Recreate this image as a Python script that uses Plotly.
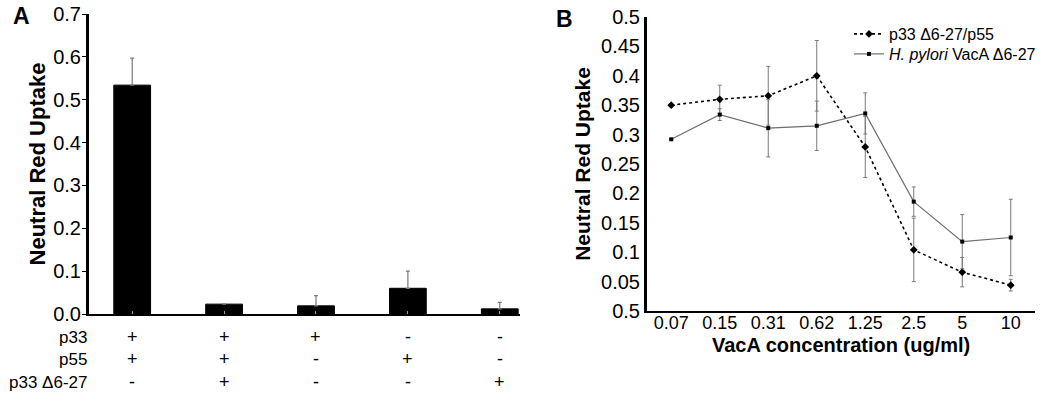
import plotly.graph_objects as go

# ---------------- Panel A data ----------------
a_categories = ["c1", "c2", "c3", "c4", "c5"]
a_values = [0.534, 0.023, 0.019, 0.060, 0.012]
a_err_plus = [0.063, 0.0, 0.024, 0.040, 0.015]
row_labels = ["p33", "p55", "p33 Δ6-27"]
row_p33 = ["+", "+", "+", "-", "-"]
row_p55 = ["+", "+", "-", "+", "-"]
row_d627 = ["-", "+", "-", "-", "+"]
a_yticks = [0.0, 0.1, 0.2, 0.3, 0.4, 0.5, 0.6, 0.7]
a_yticktext = ["0.0", "0.1", "0.2", "0.3", "0.4", "0.5", "0.6", "0.7"]

# ---------------- Panel B data ----------------
b_conc = ["0.07", "0.15", "0.31", "0.62", "1.25", "2.5", "5", "10"]
b_dotted = [0.350, 0.360, 0.366, 0.400, 0.279, 0.104, 0.066, 0.044]
b_dotted_err = [0.0, 0.024, 0.050, 0.060, 0.052, 0.054, 0.025, 0.010]
b_solid = [0.292, 0.334, 0.311, 0.315, 0.336, 0.186, 0.118, 0.125]
b_solid_err = [0.0, 0.010, 0.049, 0.042, 0.035, 0.025, 0.046, 0.065]
b_yticks = [0.0, 0.05, 0.1, 0.15, 0.2, 0.25, 0.3, 0.35, 0.4, 0.45, 0.5]
b_yticktext = ["0.5", "0.05", "0.1", "0.15", "0.2", "0.25", "0.3", "0.35", "0.4", "0.45", "0.5"]

FONT = "Liberation Sans, Arial, sans-serif"
W, H = 1050, 404

fig = go.Figure()

fig.add_trace(go.Bar(
    x=a_categories, y=a_values, width=0.4,
    marker=dict(color="black", line=dict(color="black", width=1)),
    error_y=dict(type="data", array=a_err_plus, arrayminus=[0] * len(a_values),
                 symmetric=False, color="#7a7a7a", thickness=1.2, width=2),
    xaxis="x", yaxis="y", showlegend=False,
))

fig.add_trace(go.Scatter(
    x=b_conc, y=b_dotted, mode="lines+markers", name="p33 Δ6-27/p55",
    line=dict(color="black", width=1.6, dash="dot"),
    marker=dict(symbol="diamond", size=6, color="black"),
    error_y=dict(type="data", array=b_dotted_err, color="#7a7a7a", thickness=1, width=2),
    xaxis="x2", yaxis="y2", legend="legend",
))
fig.add_trace(go.Scatter(
    x=b_conc, y=b_solid, mode="lines+markers", name="<i>H. pylori</i> VacA Δ6-27",
    line=dict(color="#6e6e6e", width=1.2),
    marker=dict(symbol="square", size=4, color="black"),
    error_y=dict(type="data", array=b_solid_err, color="#7a7a7a", thickness=1, width=2),
    xaxis="x2", yaxis="y2", legend="legend2",
))


def px(x):
    return x / W


def py(y):
    return 1 - y / H


annotations = []
rows = [row_p33, row_p55, row_d627]
row_y = [337, 359, 382]
for label, ry in zip(row_labels, row_y):
    annotations.append(dict(text=label, xref="paper", yref="paper", x=px(89), y=py(ry),
                            xanchor="right", yanchor="middle", showarrow=False,
                            font=dict(family=FONT, size=17, color="black")))
for r, ry in zip(rows, row_y):
    for cat, s in zip(a_categories, r):
        annotations.append(dict(text=s, xref="x", yref="paper", x=cat, y=py(ry),
                                xanchor="center", yanchor="middle", showarrow=False,
                                font=dict(family=FONT, size=18, color="black")))
annotations.append(dict(text="<b>A</b>", xref="paper", yref="paper", x=px(11), y=py(16),
                        xanchor="left", yanchor="middle", showarrow=False,
                        font=dict(family=FONT, size=23, color="black")))
annotations.append(dict(text="<b>B</b>", xref="paper", yref="paper", x=px(554), y=py(19),
                        xanchor="left", yanchor="middle", showarrow=False,
                        font=dict(family=FONT, size=23, color="black")))
# x-axis title of panel B
annotations.append(dict(text="<b>VacA concentration (ug/ml)</b>", xref="x2 domain", yref="paper",
                        x=0.5, y=py(345), xanchor="center", yanchor="middle", showarrow=False,
                        font=dict(family=FONT, size=20, color="black")))

legend_common = dict(xanchor="left", yanchor="top", bgcolor="rgba(0,0,0,0)",
                     font=dict(family=FONT, size=16), itemwidth=30)

fig.update_layout(
    width=W, height=H,
    margin=dict(l=0, r=0, t=0, b=0),
    paper_bgcolor="white", plot_bgcolor="white",
    font=dict(family=FONT, size=18, color="black"),
    xaxis=dict(domain=[px(89), px(520)], range=[-0.47, 4.22], automargin=False,
               showticklabels=False, showline=True, linecolor="black", linewidth=2,
               ticks="inside", ticklen=3, tickcolor="#999", showgrid=False, zeroline=False,
               anchor="y"),
    yaxis=dict(domain=[py(314), py(14)], range=[0, 0.7], tickvals=a_yticks, ticktext=a_yticktext,
               automargin=False,
               showline=True, linecolor="black", linewidth=3, ticks="outside", ticklen=4,
               tickcolor="black", showgrid=False, zeroline=False,
               tickfont=dict(family=FONT, size=20), ticklabelstandoff=-3,
               title=dict(text="<b>Neutral Red Uptake</b>", font=dict(family=FONT, size=22), standoff=2),
               anchor="x"),
    xaxis2=dict(domain=[px(647), px(1035)], range=[-0.5, 7.5], type="category", automargin=False,
                showline=True, linecolor="black", linewidth=2, ticks="", showgrid=False,
                zeroline=False, tickfont=dict(family=FONT, size=18), ticklabelstandoff=-6,
                anchor="y2"),
    yaxis2=dict(domain=[py(311), py(17)], range=[0, 0.5], tickvals=b_yticks, ticktext=b_yticktext,
                automargin=False,
                showline=True, linecolor="black", linewidth=3, ticks="", showgrid=False,
                zeroline=False, tickfont=dict(family=FONT, size=20),
                title=dict(text="<b>Neutral Red Uptake</b>", font=dict(family=FONT, size=21), standoff=5),
                anchor="x2"),
    legend=dict(x=px(849), y=py(17), **legend_common),
    legend2=dict(x=px(849), y=py(37), **legend_common),
    annotations=annotations,
)

fig.write_html("out.html", post_script="document.body.style.margin='0';",
               config={"displayModeBar": False})
